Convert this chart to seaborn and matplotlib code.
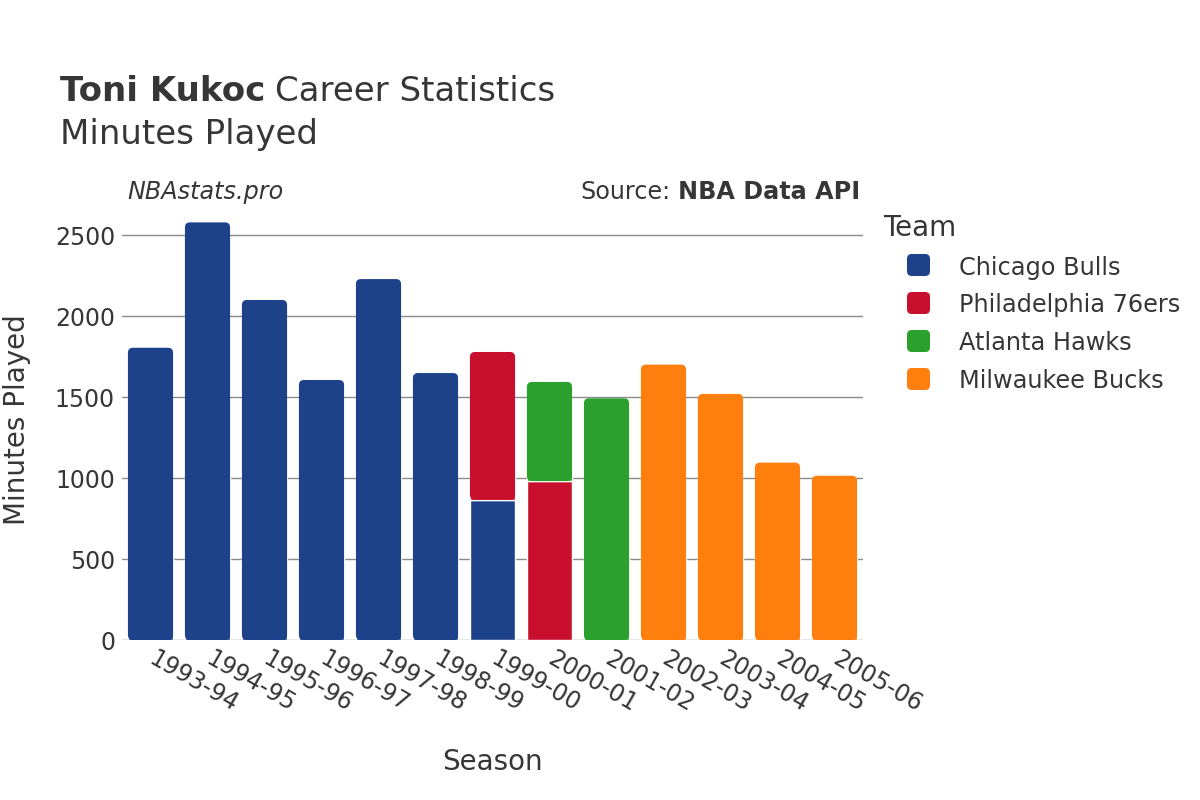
import matplotlib
matplotlib.use("Agg")
import matplotlib.pyplot as plt
from matplotlib.patches import FancyBboxPatch
import numpy as np
import seaborn as sns

# season labels + minutes per team (0 = did not play for that team)
seasons = ['1993-94', '1994-95', '1995-96', '1996-97', '1997-98', '1998-99', '1999-00',
           '2000-01', '2001-02', '2002-03', '2003-04', '2004-05', '2005-06']
teams = ['Chicago Bulls', 'Philadelphia 76ers', 'Atlanta Hawks', 'Milwaukee Bucks']
team_colors = ['#1d428a', '#c8102e', '#2ca02c', '#ff7f0e']

chicago_min = [1804, 2578, 2099, 1605, 2228, 1648, 866, 0, 0, 0, 0, 0, 0]
philly_min = [0, 0, 0, 0, 0, 0, 912, 981, 0, 0, 0, 0, 0]
atlanta_min = [0, 0, 0, 0, 0, 0, 0, 612, 1492, 0, 0, 0, 0]
milwaukee_min = [0, 0, 0, 0, 0, 0, 0, 0, 0, 1700, 1519, 1095, 1014]

team_minutes = [chicago_min, philly_min, atlanta_min, milwaukee_min]

sns.set_style('white')
plt.rcParams['font.family'] = ['DejaVu Sans']
txt_col = '#363636'

fig = plt.figure(figsize=(12, 8), dpi=100)
ax = fig.add_axes([122 / 1200, 160 / 800, 741 / 1200, 439 / 800])

bottom = np.zeros(len(seasons))
for team, vals, col in zip(teams, team_minutes, team_colors):
    sns.barplot(x=seasons, y=vals, bottom=bottom, color=col, saturation=1,
                width=0.8, errorbar=None, ax=ax, edgecolor='white', linewidth=1, zorder=2)
    bottom = bottom + np.array(vals)
totals = bottom

ax.set_xlim(-0.5, len(seasons) - 0.5)
ax.set_ylim(0, 2710)
ax.set_yticks([0, 500, 1000, 1500, 2000, 2500])

# rounded tops (plotly style) on the top segment of every stack
fig.canvas.draw()
bb = ax.get_window_extent()
px_x = bb.width / (len(seasons))
px_y = bb.height / 2710
r_px = 5
r_x = r_px / px_x
asp = (1 / px_y) / (1 / px_x)
for p in list(ax.patches):
    h = p.get_height()
    if h <= 0:
        p.remove()
        continue
    x0, y0, w = p.get_x(), p.get_y(), p.get_width()
    idx = int(round(x0 + w / 2))
    if abs(y0 + h - totals[idx]) < 1:
        p.set_height(h * 0.5)
        ax.add_patch(FancyBboxPatch((x0 + 0.004, y0), w - 0.008, h,
                                    boxstyle=f"round,pad=0,rounding_size={r_x}",
                                    mutation_aspect=asp, facecolor=p.get_facecolor(),
                                    linewidth=0, zorder=3))

ax.yaxis.grid(True, color='#8a8a8a', linewidth=1)
ax.set_axisbelow(True)
ax.axhline(0, color='#e6e6e6', linewidth=2, zorder=1.5)
sns.despine(ax=ax, left=True, bottom=True)

ax.tick_params(axis='y', length=5, color='#cccccc', labelsize=17, labelcolor=txt_col, pad=0)
ax.tick_params(axis='x', length=0, labelsize=17, labelcolor=txt_col, pad=12)
for lab in ax.get_xticklabels():
    lab.set_rotation(-30)
    lab.set_ha('left')
    lab.set_va('center')
    lab.set_rotation_mode('anchor')

ax.set_xlabel('Season', fontsize=20, color=txt_col)
ax.set_ylabel('Minutes Played', fontsize=20, color=txt_col)
ax.xaxis.set_label_coords(492 / 1200, 1 - 770 / 800, transform=fig.transFigure)
ax.yaxis.set_label_coords(31 / 1200, 1 - 420 / 800, transform=fig.transFigure)
ax.xaxis.label.set_va('baseline')

# title
renderer = fig.canvas.get_renderer()
t1 = fig.text(60 / 1200, 1 - 101 / 800, 'Toni Kukoc', fontsize=24.5, fontweight='bold',
              color=txt_col, va='baseline')
ext = t1.get_window_extent(renderer)
fig.text((ext.x1 + 10) / 1200, 1 - 101 / 800, 'Career Statistics', fontsize=24.5,
         color=txt_col, va='baseline')
fig.text(60 / 1200, 1 - 144 / 800, 'Minutes Played', fontsize=24.5, color=txt_col, va='baseline')

fig.text(127 / 1200, 1 - 199 / 800, 'NBAstats.pro', fontsize=17.2, style='italic',
         color=txt_col, va='baseline')
s2 = fig.text(860 / 1200, 1 - 199 / 800, 'NBA Data API', fontsize=17.2, fontweight='bold',
              color=txt_col, va='baseline', ha='right')
e2 = s2.get_window_extent(renderer)
fig.text((e2.x0 - 7) / 1200, 1 - 199 / 800, 'Source:', fontsize=17.2,
         color=txt_col, va='baseline', ha='right')

# legend drawn by hand to match plotly's layout
fig.text(883 / 1200, 1 - 236 / 800, 'Team', fontsize=20, color=txt_col, va='baseline')
for i, (team, col) in enumerate(zip(teams, team_colors)):
    yc = 265 + i * 38
    fig.patches.append(FancyBboxPatch((907 / 1200, 1 - (yc + 11) / 800), 23 / 1200, 22 / 800,
                                      boxstyle="round,pad=0,rounding_size=0.004",
                                      mutation_aspect=1.5,
                                      transform=fig.transFigure, facecolor=col,
                                      linewidth=0, figure=fig))
    fig.text(959 / 1200, 1 - yc / 800, team, fontsize=17.3, color=txt_col, va='center_baseline')

fig.savefig('out.png', dpi=100)
